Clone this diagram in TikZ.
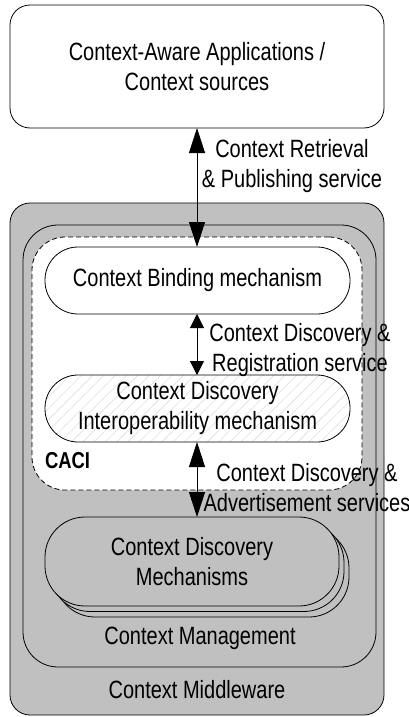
\documentclass[tikz,border=0pt]{standalone}
\usepackage{fontspec}
\setmainfont{Liberation Sans}[FakeStretch=0.8]
\usetikzlibrary{patterns.meta,arrows.meta}
\definecolor{midgray}{HTML}{C0C0C0}
\begin{document}
\begin{tikzpicture}[x=1pt,y=-1pt,
  every node/.style={inner sep=0pt,outer sep=0pt,font=\fontsize{25}{30}\selectfont,align=center},
  frame/.style={draw,line width=0.8pt},
  bigtip/.style={{Triangle[length=25pt,width=16pt]}-{Triangle[length=25pt,width=16pt]}},
  smalltip/.style={{Triangle[length=14pt,width=14pt]}-{Triangle[length=14pt,width=14pt]}},
  lbl/.style={text=black}]
\useasboundingbox (0,0) rectangle (409,717);
% top box
\node[frame,rounded corners=20pt,minimum width=374pt,minimum height=123pt] (app) at (197,66.5) {Context-Aware Applications /\\Context sources};
% middleware
\node[frame,fill=midgray,rounded corners=20pt,minimum width=374pt,minimum height=512pt] (mw) at (197,459) {};
\node (mwt) at (197,690) {Context Middleware};
% management
\node[frame,fill=midgray,rounded corners=35pt,minimum width=353pt,minimum height=442pt] (cm) at (199.5,446) {};
\node (cmt) at (200,638) {Context Management};
% CACI
\node[frame,dashed,dash pattern=on 5pt off 3pt,fill=white,rounded corners=33pt,minimum width=330pt,minimum height=253pt] (caci) at (197,363.5) {};
\node[font=\fontsize{23}{28}\selectfont\bfseries,anchor=west] (cacit) at (45,461) {CACI};
% binding
\node[frame,fill=white,rounded corners=33pt,minimum width=305pt,minimum height=67pt] (bind) at (197.5,280.5) {Context Binding mechanism};
% interop
\node[frame,preaction={fill=white},pattern={Lines[angle=45,distance=8pt,line width=0.6pt]},pattern color=gray!25,rounded corners=33pt,minimum width=305pt,minimum height=67pt] (inter) at (197.5,408.5) {};
\node (intert) at (197.5,408) {Context Discovery\\Interoperability mechanism};
% mechanisms stack
\node[frame,fill=midgray,rounded corners=40pt,minimum width=294pt,minimum height=89pt] (mech3) at (202,572.5) {};
\node[frame,fill=midgray,rounded corners=40pt,minimum width=294pt,minimum height=89pt] (mech2) at (197,567) {};
\node[frame,fill=midgray,rounded corners=40pt,minimum width=294pt,minimum height=89pt] (mech) at (192,561.5) {Context Discovery\\Mechanisms};
% arrows
\draw[line width=0.8pt,bigtip] (app.south -| 197,0) -- (bind.north -| 197,0);
\draw[line width=0.8pt,smalltip] (bind.south -| 197,0) -- (inter.north -| 197,0);
\draw[line width=0.8pt,bigtip] (inter.south -| 197,0) -- (mech.north -| 197,0);
% labels
\node[lbl] (l1) at (292,166) {Context Retrieval\\\& Publishing service};
\node[lbl] (l2) at (300,350) {Context Discovery \&\\Registration service};
\node[lbl] (l3) at (307,488) {Context Discovery \&\\Advertisement services};
\end{tikzpicture}
\end{document}
